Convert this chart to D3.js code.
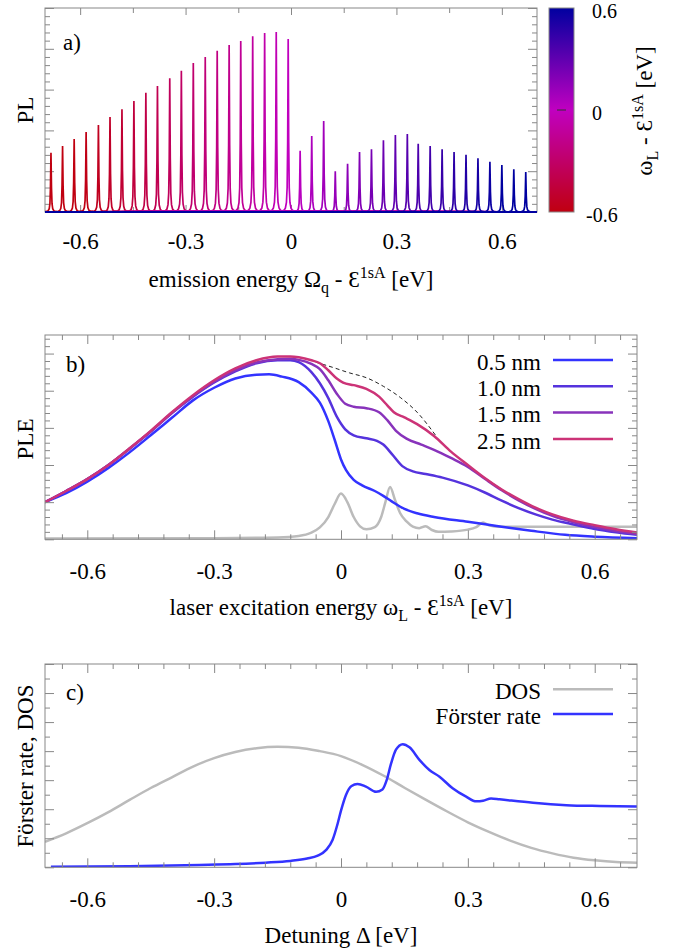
<!DOCTYPE html>
<html>
<head>
<meta charset="utf-8">
<script src="https://cdn.jsdelivr.net/npm/d3@7"></script>
<style>
  body { margin: 0; background: #fff; }
  text { font-family: "Liberation Serif", "DejaVu Serif", serif; font-size: 23px; fill: #000; }
  text.cbt { font-size: 20px; }
</style>
</head>
<body>
<svg id="fig" width="683" height="952"></svg>
<script>
// ---------- panel a: PL peaks (position = laser energy, height) ----------
const peakPos = [-0.683, -0.650, -0.617, -0.583, -0.548, -0.515, -0.481, -0.447, -0.413, -0.380,
                 -0.345, -0.312, -0.278, -0.244, -0.210, -0.176, -0.143, -0.109, -0.075, -0.042,
                 -0.008, 0.026, 0.059, 0.093, 0.126, 0.161, 0.195, 0.229, 0.263, 0.297,
                 0.331, 0.362, 0.396, 0.430, 0.464, 0.498, 0.532, 0.566, 0.600, 0.634, 0.668];
const peakHeight = [1.45, 1.62, 1.79, 1.96, 2.13, 2.33, 2.52, 2.72, 2.92, 3.09,
                    3.28, 3.46, 3.65, 3.80, 3.95, 4.09, 4.19, 4.31, 4.39, 4.41,
                    4.24, 1.50, 1.86, 2.23, 1.00, 1.18, 1.47, 1.54, 1.76, 1.89,
                    1.91, 1.67, 1.62, 1.54, 1.47, 1.40, 1.32, 1.23, 1.15, 1.05, 0.98];
// line shape of one peak: [offset eV, fraction of height]
const peakProfile = [[-0.02, 0.004], [-0.012, 0.01], [-0.008, 0.022], [-0.005, 0.055], [-0.003, 0.14],
                     [-0.0015, 0.4], [0, 1], [0.0015, 0.4], [0.003, 0.14], [0.005, 0.055],
                     [0.008, 0.022], [0.012, 0.01], [0.02, 0.004]];

const xTicks = [-0.6, -0.3, 0, 0.3, 0.6];
const cbTicks = [-0.6, 0, 0.6];

// ---------- panel b: PLE spectra ----------
const ple25 = [[-0.70,1.00],[-0.65,1.30],[-0.60,1.62],[-0.55,2.00],[-0.50,2.45],[-0.45,2.92],[-0.40,3.42],
  [-0.35,3.88],[-0.30,4.28],[-0.25,4.60],[-0.20,4.82],[-0.15,4.92],[-0.12,4.92],[-0.10,4.90],[-0.07,4.82],
  [-0.05,4.74],[-0.03,4.55],[-0.01,4.33],[0.005,4.22],[0.03,4.15],[0.06,4.05],[0.09,3.84],[0.11,3.60],
  [0.125,3.42],[0.15,3.28],[0.18,3.10],[0.22,2.78],[0.26,2.36],[0.30,2.00],[0.34,1.65],[0.38,1.34],
  [0.42,1.08],[0.46,0.85],[0.50,0.67],[0.55,0.50],[0.60,0.38],[0.65,0.27],[0.70,0.18]];
const ple15 = [[-0.70,1.00],[-0.65,1.30],[-0.60,1.62],[-0.55,2.00],[-0.50,2.44],[-0.45,2.90],[-0.40,3.40],
  [-0.35,3.85],[-0.30,4.24],[-0.25,4.55],[-0.20,4.76],[-0.15,4.85],[-0.12,4.86],[-0.10,4.83],[-0.07,4.72],
  [-0.05,4.58],[-0.03,4.28],[-0.01,3.92],[0.01,3.65],[0.03,3.57],[0.06,3.53],[0.09,3.42],[0.11,3.20],
  [0.13,2.92],[0.155,2.71],[0.19,2.55],[0.22,2.41],[0.26,2.19],[0.30,1.95],[0.34,1.63],[0.38,1.32],
  [0.42,1.05],[0.46,0.82],[0.50,0.63],[0.55,0.46],[0.60,0.33],[0.65,0.22],[0.70,0.14]];
const ple10 = [[-0.70,1.00],[-0.65,1.30],[-0.60,1.62],[-0.55,2.00],[-0.50,2.44],[-0.45,2.90],[-0.40,3.40],
  [-0.35,3.84],[-0.30,4.22],[-0.25,4.52],[-0.20,4.74],[-0.15,4.82],[-0.12,4.82],[-0.10,4.77],[-0.07,4.50],
  [-0.05,4.20],[-0.03,3.80],[-0.01,3.30],[0.01,2.96],[0.03,2.80],[0.06,2.72],[0.085,2.65],[0.10,2.55],
  [0.12,2.30],[0.145,1.97],[0.17,1.83],[0.20,1.76],[0.24,1.66],[0.30,1.45],[0.34,1.26],[0.38,1.04],
  [0.42,0.84],[0.46,0.67],[0.50,0.53],[0.55,0.40],[0.60,0.28],[0.65,0.19],[0.70,0.12]];
const ple05 = [[-0.70,1.00],[-0.65,1.24],[-0.60,1.55],[-0.55,1.92],[-0.50,2.34],[-0.45,2.80],[-0.40,3.27],
  [-0.35,3.74],[-0.30,4.08],[-0.25,4.33],[-0.20,4.43],[-0.17,4.44],[-0.14,4.38],[-0.10,4.23],[-0.07,3.95],
  [-0.05,3.68],[-0.03,3.18],[-0.015,2.68],[0.0,2.15],[0.012,1.86],[0.03,1.60],[0.05,1.45],[0.08,1.30],
  [0.10,1.17],[0.12,1.02],[0.15,0.82],[0.18,0.70],[0.22,0.60],[0.30,0.47],[0.38,0.34],[0.45,0.23],
  [0.53,0.12],[0.60,0.07],[0.70,0.03]];
const pleEnvelope = [[-0.06,4.77],[-0.02,4.63],[0.02,4.48],[0.06,4.35],[0.10,4.12],[0.14,3.82],[0.18,3.42],[0.225,2.78]];
const pleDos = [[-0.70,0.02],[-0.30,0.03],[-0.15,0.05],[-0.10,0.09],[-0.07,0.18],[-0.05,0.32],[-0.03,0.60],
  [-0.015,0.95],[0.0,1.23],[0.015,1.00],[0.03,0.60],[0.045,0.35],[0.06,0.27],[0.08,0.33],[0.095,0.60],
  [0.105,1.00],[0.116,1.41],[0.128,1.05],[0.14,0.70],[0.155,0.48],[0.17,0.34],[0.185,0.30],[0.20,0.35],
  [0.215,0.25],[0.23,0.20],[0.26,0.21],[0.30,0.26],[0.32,0.33],[0.336,0.45],[0.35,0.38],[0.375,0.34],[0.70,0.34]];
const pleLabels = ["0.5 nm", "1.0 nm", "1.5 nm", "2.5 nm"];
const pleColors = ["#3333ff", "#5533dd", "#8833bb", "#cc3377"];

// ---------- panel c: DOS and Förster rate ----------
const dosC = [[-0.70,0.88],[-0.65,1.17],[-0.60,1.52],[-0.55,1.90],[-0.50,2.32],[-0.45,2.73],[-0.40,3.10],
  [-0.35,3.47],[-0.30,3.76],[-0.25,3.97],[-0.20,4.10],[-0.15,4.15],[-0.10,4.12],[-0.05,4.00],[0.0,3.83],
  [0.05,3.53],[0.10,3.16],[0.15,2.74],[0.20,2.33],[0.25,1.93],[0.30,1.55],[0.35,1.22],[0.40,0.92],
  [0.45,0.67],[0.50,0.48],[0.55,0.33],[0.60,0.24],[0.65,0.18],[0.70,0.16]];
const foerster = [[-0.686,0.02],[-0.5,0.04],[-0.335,0.08],[-0.25,0.11],[-0.178,0.16],[-0.12,0.22],[-0.08,0.30],
  [-0.055,0.40],[-0.035,0.60],[-0.02,0.94],[-0.008,1.50],[0.0,1.95],[0.012,2.50],[0.025,2.80],[0.039,2.87],
  [0.059,2.78],[0.083,2.60],[0.098,2.68],[0.108,3.00],[0.118,3.55],[0.130,4.05],[0.146,4.24],[0.162,4.13],
  [0.186,3.69],[0.209,3.35],[0.233,3.12],[0.264,2.72],[0.296,2.43],[0.320,2.27],[0.336,2.29],[0.355,2.37],
  [0.375,2.34],[0.454,2.22],[0.533,2.14],[0.612,2.11],[0.70,2.09]];

// ---------- drawing ----------
const svg = d3.select("#fig");
const frameColor = "#888";
const fmt = d => String(+(+d).toFixed(1));
const near = (a, list) => list.some(b => Math.abs(a - b) < 1e-6);

function frame(g, x, y, o) {
  const [x0, x1] = x.range(), [yb, yt] = y.range();
  const xMinor = o.xMinor.filter(v => !near(v, o.xMajor));
  const yMinor = o.yMinor.filter(v => !near(v, o.yMajor));
  const style = sel => {
    sel.select(".domain").remove();
    sel.selectAll("line").attr("stroke", frameColor);
  };
  g.append("g").attr("transform", `translate(0,${yb})`)
    .call(d3.axisBottom(x).tickValues(o.xMajor).tickSize(-o.xLen).tickPadding(o.pad).tickFormat(fmt)).call(style);
  g.append("g").attr("transform", `translate(0,${yb})`)
    .call(d3.axisBottom(x).tickValues(xMinor).tickSize(-5).tickFormat("")).call(style);
  g.append("g").attr("transform", `translate(0,${yt})`)
    .call(d3.axisTop(x).tickValues(o.xMajor).tickSize(-o.xLen).tickFormat("")).call(style);
  g.append("g").attr("transform", `translate(0,${yt})`)
    .call(d3.axisTop(x).tickValues(xMinor).tickSize(-5).tickFormat("")).call(style);
  g.append("g").attr("transform", `translate(${x0},0)`)
    .call(d3.axisLeft(y).tickValues(o.yMajor).tickSize(-9).tickFormat("")).call(style);
  g.append("g").attr("transform", `translate(${x0},0)`)
    .call(d3.axisLeft(y).tickValues(yMinor).tickSize(-5).tickFormat("")).call(style);
  g.append("g").attr("transform", `translate(${x1},0)`)
    .call(d3.axisRight(y).tickValues(o.yMajor).tickSize(-9).tickFormat("")).call(style);
  g.append("g").attr("transform", `translate(${x1},0)`)
    .call(d3.axisRight(y).tickValues(yMinor).tickSize(-5).tickFormat("")).call(style);
  g.append("rect").attr("x", x0).attr("y", yt).attr("width", x1 - x0).attr("height", yb - yt)
    .attr("fill", "none").attr("stroke", frameColor).attr("stroke-width", 1);
}

function stepRange(a, b, s) {
  return d3.range(Math.round((b - a) / s) + 1).map(i => +(a + i * s).toFixed(4));
}

function richText(g, parts, attrs) {
  const t = g.append("text");
  Object.entries(attrs).forEach(([k, v]) => t.attr(k, v));
  let shift = 0;
  parts.forEach(p => {
    const target = p.sub ? 6 : p.sup ? -9 : 0;
    t.append("tspan").attr("dy", target - shift)
      .style("font-size", (p.sub || p.sup) ? "16px" : null).text(p.t);
    shift = target;
  });
  return t;
}

function clip(id, x, y, extra = 0) {
  svg.append("clipPath").attr("id", id).append("rect")
    .attr("x", x.range()[0]).attr("y", y.range()[1])
    .attr("width", x.range()[1] - x.range()[0]).attr("height", y.range()[0] - y.range()[1] + extra);
}

// ===== panel a =====
const xa = d3.scaleLinear().domain([-0.7, 0.7]).range([45, 537]);
const ya = d3.scaleLinear().domain([0, 5]).range([212, 8]);
const cb = d3.scaleLinear().domain([-0.6, 0, 0.6]).range(["#c00010", "#c000c0", "#0000a0"]).clamp(true);
clip("clipA", xa, ya, 1.5);
const ga = svg.append("g");
const lineA = d3.line().x(d => xa(d[0])).y(d => ya(d[1]));
frame(ga, xa, ya, { xMajor: xTicks, xMinor: stepRange(-0.6, 0.6, 0.15), xLen: 7, pad: 21,
  yMajor: stepRange(0, 5, 1), yMinor: stepRange(0, 5, 0.2) });
ga.append("g").attr("clip-path", "url(#clipA)")
  .selectAll("path").data(peakPos.map((p, i) => ({ p, h: peakHeight[i] })))
  .join("path")
  .attr("d", d => lineA([[-0.7, 0], ...peakProfile.map(([dx, f]) => [d.p + dx, d.h * f]), [0.7, 0]]))
  .attr("fill", "none").attr("stroke", d => cb(d.p)).attr("stroke-width", 1.7);
ga.append("text").attr("x", 63).attr("y", 50).text("a)");
ga.append("text").attr("transform", "translate(33,110) rotate(-90)").attr("text-anchor", "middle").text("PL");
richText(ga, [{ t: "emission energy Ω" }, { t: "q", sub: true }, { t: " - Ɛ" }, { t: "1sA", sup: true }, { t: " [eV]" }],
  { x: 291, y: 287, "text-anchor": "middle" });

// colour bar
const cbY = d3.scaleLinear().domain([-0.6, 0.6]).range([212, 8]);
const grad = svg.append("defs").append("linearGradient").attr("id", "cbGrad")
  .attr("x1", 0).attr("y1", 1).attr("x2", 0).attr("y2", 0);
grad.selectAll("stop").data(stepRange(-0.6, 0.6, 0.05)).join("stop")
  .attr("offset", d => (d + 0.6) / 1.2).attr("stop-color", d => cb(d));
ga.append("rect").attr("x", 549).attr("y", cbY(0.6)).attr("width", 25).attr("height", cbY(-0.6) - cbY(0.6))
  .attr("fill", "url(#cbGrad)").attr("stroke", frameColor);
ga.append("line").attr("x1", 557).attr("x2", 566).attr("y1", cbY(0)).attr("y2", cbY(0))
  .attr("stroke", "#333").attr("stroke-width", 1);
ga.selectAll(".cbt").data(cbTicks).join("text").attr("class", "cbt")
  .attr("x", d => d < 0 ? 586 : 592).attr("y", d => cbY(d) + 3).attr("dy", "0.35em").text(fmt);
richText(ga, [{ t: "ω" }, { t: "L", sub: true }, { t: " - Ɛ" }, { t: "1sA", sup: true }, { t: " [eV]" }],
  { transform: "translate(652,111) rotate(-90)", "text-anchor": "middle" });

// ===== panel b =====
const xb = d3.scaleLinear().domain([-0.7, 0.7]).range([45, 637]);
const yb = d3.scaleLinear().domain([0, 5.5]).range([539.3, 335]);
clip("clipB", xb, yb);
const gb = svg.append("g");
const lineB = d3.line().x(d => xb(d[0])).y(d => yb(d[1])).curve(d3.curveMonotoneX);
const gbData = gb.append("g").attr("clip-path", "url(#clipB)");
gbData.append("path").attr("d", lineB(pleDos)).attr("fill", "none").attr("stroke", "#bbbbbb").attr("stroke-width", 2.5);
gbData.append("path").attr("d", lineB(pleEnvelope)).attr("fill", "none").attr("stroke", "#222")
  .attr("stroke-width", 1).attr("stroke-dasharray", "4,3");
[ple05, ple10, ple15, ple25].forEach((s, i) => {
  gbData.append("path").attr("d", lineB(s)).attr("fill", "none").attr("stroke", pleColors[i]).attr("stroke-width", 2.5);
});
frame(gb, xb, yb, { xMajor: xTicks, xMinor: stepRange(-0.66, 0.66, 0.06), xLen: 9, pad: 23,
  yMajor: stepRange(0, 5, 1), yMinor: stepRange(0, 5.4, 0.2) });
gb.append("text").attr("x", 66).attr("y", 372).text("b)");
gb.append("text").attr("transform", "translate(33,439) rotate(-90)").attr("text-anchor", "middle").text("PLE");
richText(gb, [{ t: "laser excitation energy ω" }, { t: "L", sub: true }, { t: " - Ɛ" }, { t: "1sA", sup: true }, { t: " [eV]" }],
  { x: 341, y: 615, "text-anchor": "middle" });
const legB = gb.selectAll(".legb").data(pleLabels).join("g").attr("class", "legb")
  .attr("transform", (d, i) => `translate(0,${360 + i * 26.3})`);
legB.append("line").attr("x1", 553).attr("x2", 613).attr("stroke", (d, i) => pleColors[i]).attr("stroke-width", 2.5);
legB.append("text").attr("x", 541).attr("dy", "0.42em").attr("text-anchor", "end").text(d => d);

// ===== panel c =====
const xc = d3.scaleLinear().domain([-0.7, 0.7]).range([45, 637]);
const yc = d3.scaleLinear().domain([0, 7]).range([867.3, 664]);
clip("clipC", xc, yc);
const gc = svg.append("g");
const lineC = d3.line().x(d => xc(d[0])).y(d => yc(d[1])).curve(d3.curveMonotoneX);
const gcData = gc.append("g").attr("clip-path", "url(#clipC)");
gcData.append("path").attr("d", lineC(dosC)).attr("fill", "none").attr("stroke", "#bbbbbb").attr("stroke-width", 2.5);
gcData.append("path").attr("d", lineC(foerster)).attr("fill", "none").attr("stroke", "#3333ff").attr("stroke-width", 2.5);
frame(gc, xc, yc, { xMajor: xTicks, xMinor: stepRange(-0.66, 0.66, 0.06), xLen: 9, pad: 23,
  yMajor: stepRange(0, 7, 1), yMinor: stepRange(0, 7, 0.5) });
gc.append("text").attr("x", 66).attr("y", 700).text("c)");
gc.append("text").attr("transform", "translate(33,766) rotate(-90)").attr("text-anchor", "middle").text("Förster rate, DOS");
gc.append("text").attr("x", 341).attr("y", 943).attr("text-anchor", "middle").text("Detuning Δ [eV]");
const legC = gc.selectAll(".legc").data([["DOS", "#bbbbbb"], ["Förster rate", "#3333ff"]]).join("g").attr("class", "legc")
  .attr("transform", (d, i) => `translate(0,${689.3 + i * 24.7})`);
legC.append("line").attr("x1", 553).attr("x2", 613).attr("stroke", d => d[1]).attr("stroke-width", 2.5);
legC.append("text").attr("x", 541).attr("dy", "0.42em").attr("text-anchor", "end").text(d => d[0]);
</script>
</body>
</html>
